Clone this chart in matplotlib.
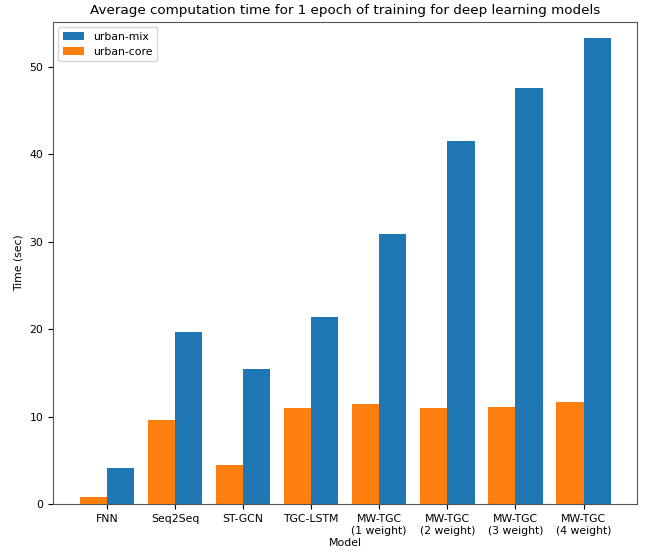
import numpy as np
import matplotlib.pyplot as plt

models = ["FNN", "Seq2Seq", "ST-GCN", "TGC-LSTM",
          "MW-TGC\n(1 weight)", "MW-TGC\n(2 weight)", "MW-TGC\n(3 weight)", "MW-TGC\n(4 weight)"]
urban_mix = [4.15, 19.72, 15.42, 21.44, 30.85, 41.55, 47.5, 53.2]
urban_core = [0.87, 9.67, 4.45, 10.97, 11.46, 10.97, 11.15, 11.65]

x = np.arange(len(models))
w = 0.4
fs = 7.8

fig = plt.figure(figsize=(6.47, 5.52), dpi=100)
ax = fig.add_axes([0.082, 0.0864, 0.903, 0.874])

ax.bar(x + w/2, urban_mix, w, color='#1f77b4', label='urban-mix')
ax.bar(x - w/2, urban_core, w, color='#ff7f0e', label='urban-core')

ax.set_xticks(x)
ax.set_xticklabels(models, fontsize=fs)
ax.tick_params(axis='y', labelsize=fs)
ax.set_ylim(0, 55.1)
ax.set_yticks([0, 10, 20, 30, 40, 50])
for s in ax.spines.values():
    s.set_color('#555555')

ax.set_xlabel("Model", fontsize=fs, labelpad=2)
ax.set_ylabel("Time (sec)", fontsize=fs)
ax.set_title("Average computation time for 1 epoch of training for deep learning models", fontsize=9.7)
ax.legend(loc='upper left', fontsize=fs)

fig.savefig("out.png", dpi=100)
